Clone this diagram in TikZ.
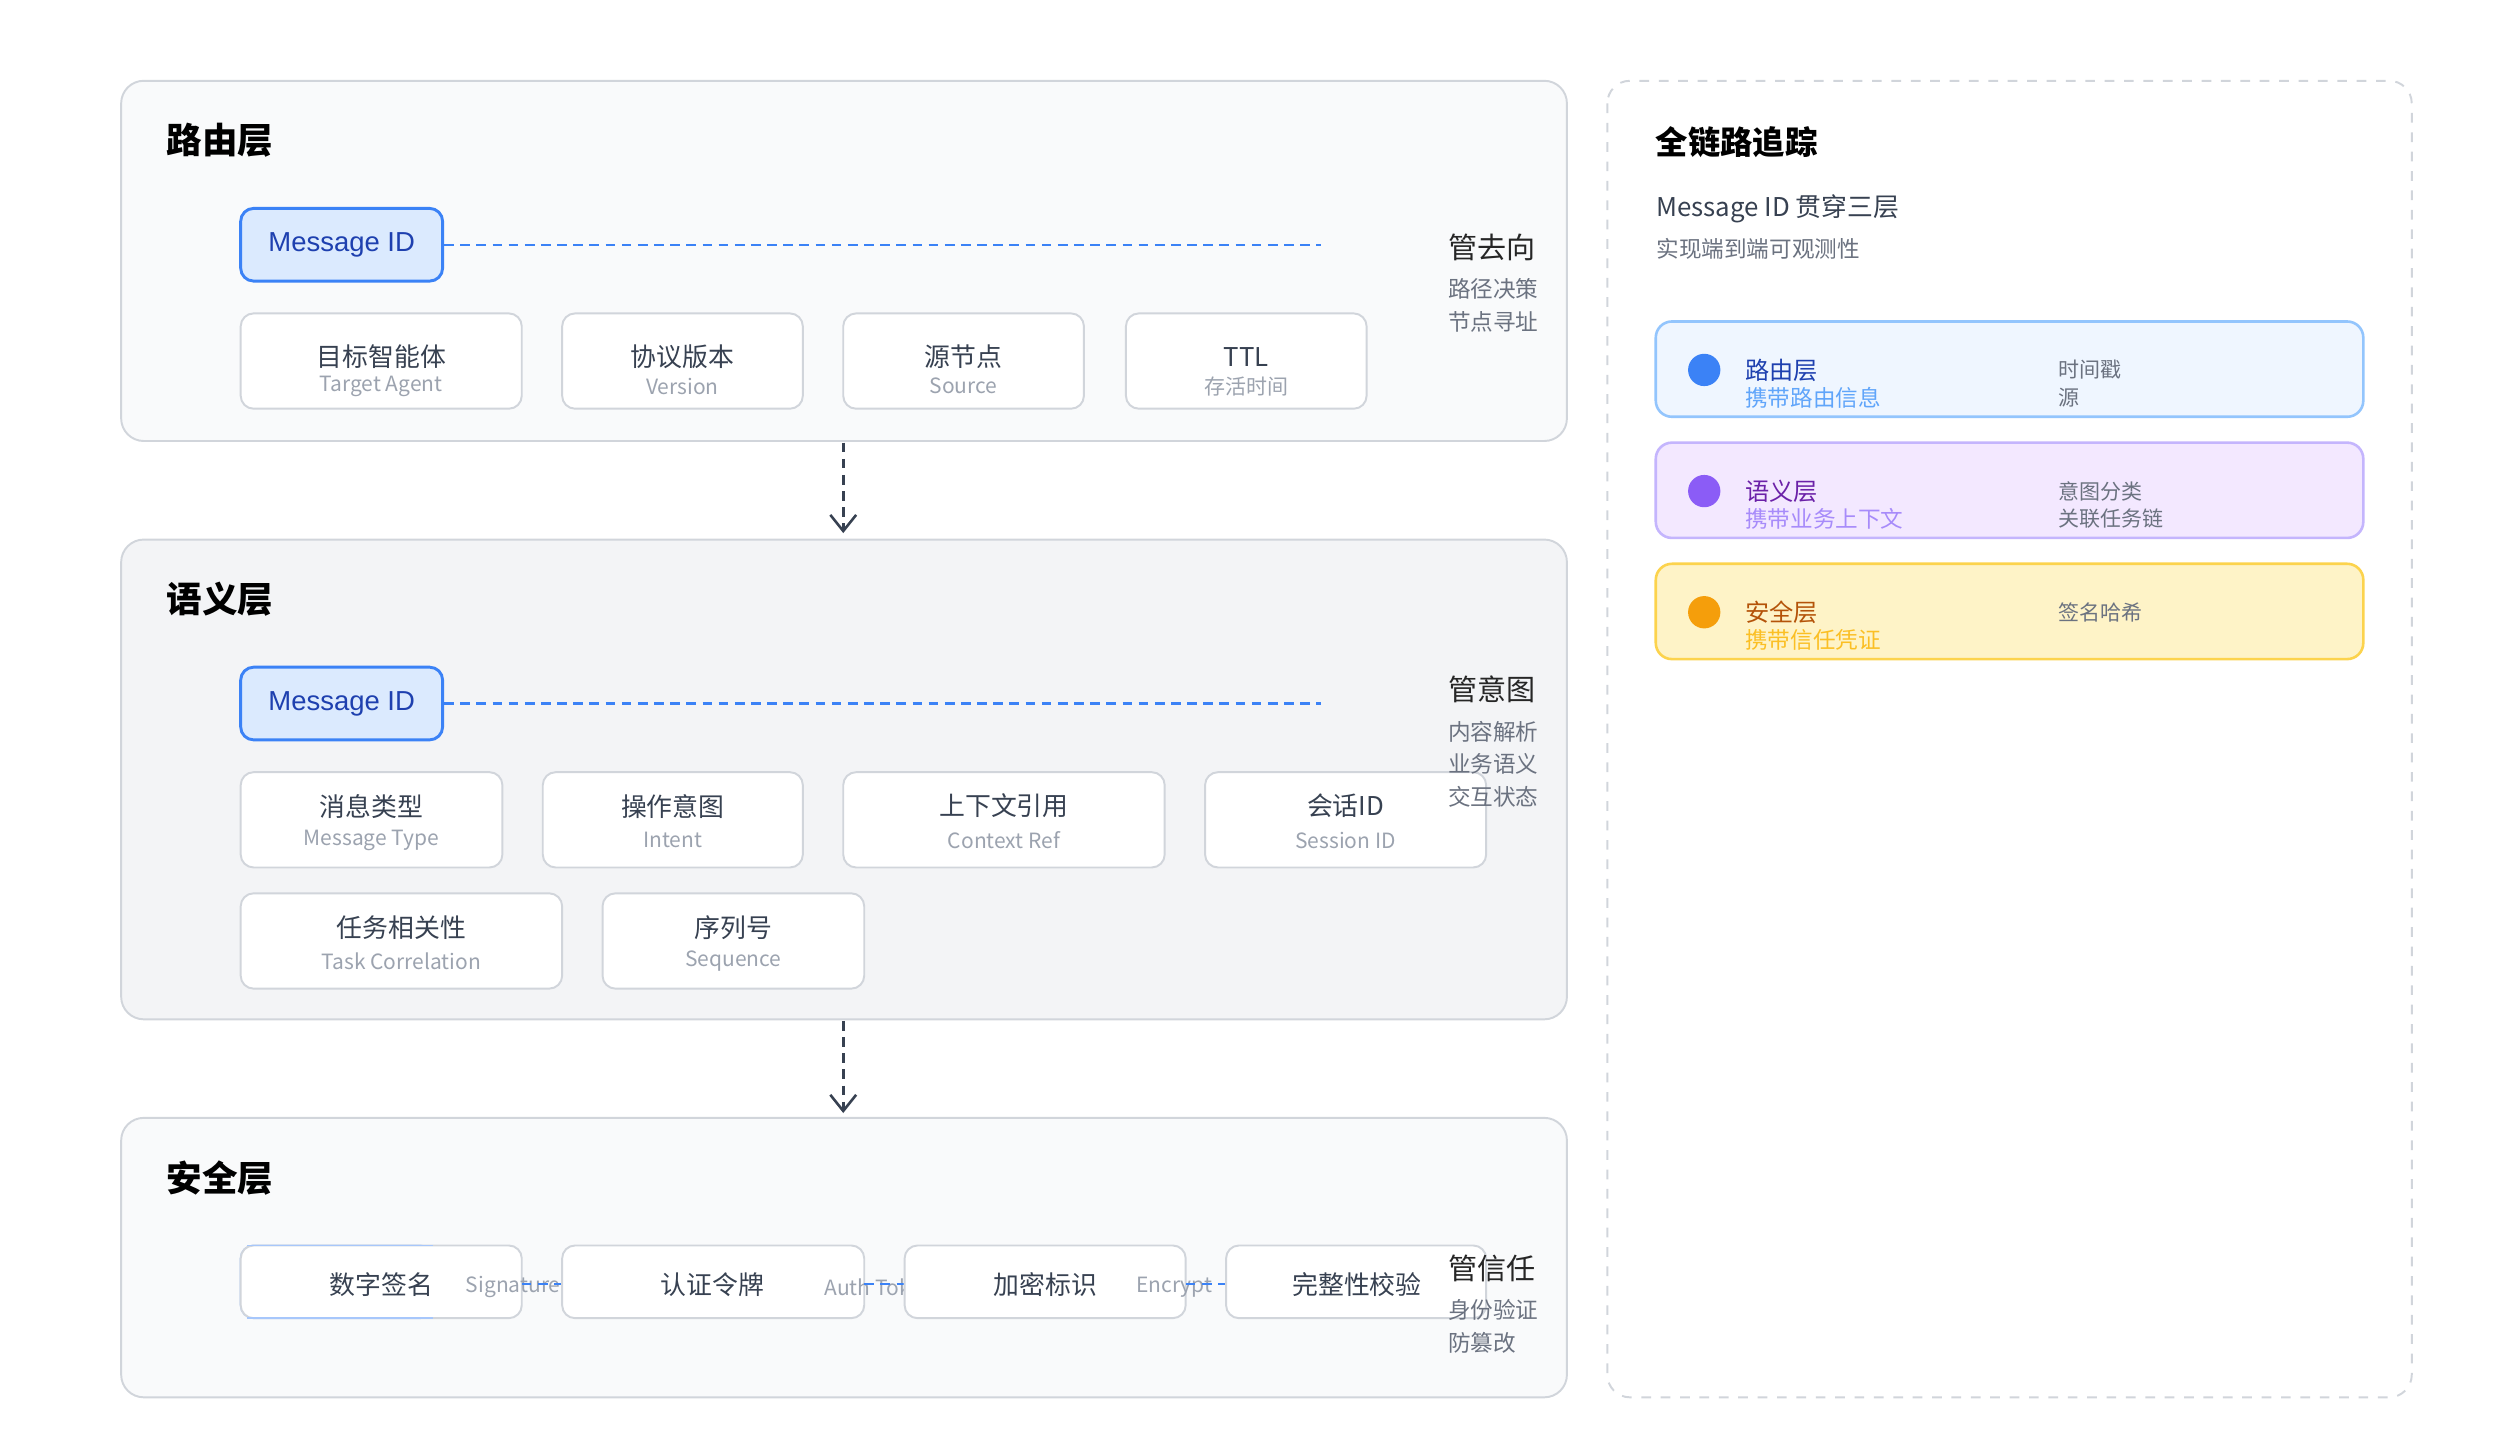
\documentclass[tikz,border=0pt]{standalone}
\usepackage{fontspec}
\setmainfont{Noto Sans CJK SC}
\newfontfamily\latn{Liberation Sans}
\usetikzlibrary{arrows.meta}
\definecolor{panelA}{HTML}{F9FAFB}
\definecolor{panelB}{HTML}{F3F4F6}
\definecolor{pborder}{HTML}{D1D5DB}
\definecolor{bborder}{HTML}{D1D5DB}
\definecolor{txt}{HTML}{374151}
\definecolor{sub}{HTML}{9CA3AF}
\definecolor{side}{HTML}{6B7280}
\definecolor{blue}{HTML}{3B82F6}
\definecolor{lblue}{HTML}{DBEAFE}
\definecolor{dblue}{HTML}{1E40AF}
\tikzset{
 x=0.5pt,y=-0.5pt,
 panel/.style={draw=pborder,line width=0.6pt,rounded corners=7pt},
 box/.style={draw=bborder,fill=white,line width=0.6pt,rounded corners=4pt},
 mid/.style={draw=blue,fill=lblue,line width=0.9pt,rounded corners=4pt},
 title/.style={anchor=west,font=\fontsize{11}{13}\selectfont\bfseries,text=black},
 main/.style={font=\fontsize{8}{10}\selectfont,text=txt,inner sep=0},
 subl/.style={font=\fontsize{6.5}{8}\selectfont,text=sub,inner sep=0},
 side1/.style={anchor=west,font=\fontsize{9}{11}\selectfont,text=black!85,inner sep=0},
 side2/.style={anchor=west,font=\fontsize{7}{9}\selectfont,text=side,inner sep=0},
 link/.style={draw=blue,dashed,dash pattern=on 3pt off 2pt,line width=0.7pt},
 flow/.style={draw=txt,dashed,dash pattern=on 3pt off 2pt,line width=0.8pt,-{Straight Barb[length=5pt,width=8pt]}},
}
\begin{document}
\begin{tikzpicture}
\useasboundingbox (0,0) rectangle (1560,891);
% ---------- routing
\draw[panel,fill=panelA] (75,50) rectangle (970,273);
\node[title] (t1) at (96,87) {路由层};
\node[mid,minimum width=62.5pt,minimum height=22.5pt,font=\fontsize{8.5}{10}\selectfont\latn,text=dblue] (m1) at (211.5,151.5) {Message ID};
\coordinate (e1) at (818,151.5);
\draw[link] (m1.east) -- (e1);
\node[side1] (s1) at (896,153) {管去向};
\node[side2] (s1a) at (896,179) {路径决策};
\node[side2] (s1b) at (896,199) {节点寻址};
\foreach \n/\a/\b/\m/\s in {r1/149/323/目标智能体/Target Agent,r2/348/497/协议版本/Version,r3/522/671/源节点/Source,r4/697/846/TTL/存活时间}{
 \draw[box] (\a,194) rectangle (\b,253);
 \node[main] (\n) at ({(\a+\b)/2},221) {\m};
 \node[subl] (\n s) at ({(\a+\b)/2},239) {\s};
}
% ---------- semantic
\draw[panel,fill=panelB] (75,334) rectangle (970,631);
\node[title] (t2) at (96,371) {语义层};
\node[mid,minimum width=62.5pt,minimum height=22.5pt,font=\fontsize{8.5}{10}\selectfont\latn,text=dblue] (m2) at (211.5,435.5) {Message ID};
\coordinate (e2) at (818,435.5);
\draw[link] (m2.east) -- (e2);
\foreach \n/\a/\b/\y/\m/\s in {q1/149/311/478/消息类型/Message Type,q2/336/497/478/操作意图/Intent,q3/522/721/478/上下文引用/Context Ref,q4/746/920/478/会话ID/Session ID,q5/149/348/553/任务相关性/Task Correlation,q6/373/535/553/序列号/Sequence}{
 \draw[box] (\a,\y) rectangle (\b,\y+59);
 \node[main] (\n) at ({(\a+\b)/2},\y+21) {\m};
 \node[subl] (\n s) at ({(\a+\b)/2},\y+42) {\s};
}
\node[side1] (s2) at (896,427) {管意图};
\node[side2] (s2a) at (896,453) {内容解析};
\node[side2] (s2b) at (896,473) {业务语义};
\node[side2] (s2c) at (896,493) {交互状态};
% ---------- security
\draw[panel,fill=panelA] (75,692) rectangle (970,865);
\node[title] (t3) at (96,729) {安全层};
\draw[box,draw=blue!45] (149,771) rectangle (268,816);
\draw[box] (149,771) rectangle (323,816);
\draw[draw=blue!45,line width=0.6pt] (153,771) -- (268,771) (153,816) -- (268,816);
\node[main] (k1) at (236,795) {数字签名};
\node[subl,anchor=west] (k1s) at (288,797) {Signature};
\draw[link] (323,795) -- (348,795);
\draw[box] (348,771) rectangle (535,816);
\node[main] (k2) at (441,795) {认证令牌};
\node[subl,anchor=west] (k2s) at (510,797) {Auth Token};
\draw[link] (535,795) -- (560,795);
\draw[box] (560,771) rectangle (734,816);
\node[main] (k3) at (647,795) {加密标识};
\node[subl,anchor=west] (k3s) at (703,797) {Encrypt};
\draw[link] (734,795) -- (759,795);
\draw[box] (759,771) rectangle (920,816);
\node[main] (k4) at (840,795) {完整性校验};
\node[side1] (s3) at (896,785) {管信任};
\node[side2] (s3a) at (896,811) {身份验证};
\node[side2] (s3b) at (896,831) {防篡改};
% ---------- flow arrows
\coordinate (a1) at (522,274); \coordinate (a2) at (522,330);
\coordinate (b1) at (522,632); \coordinate (b2) at (522,689);
\draw[flow] (a1) -- (a2);
\draw[flow] (b1) -- (b2);
% ---------- right panel
\draw[draw=pborder,dashed,dash pattern=on 3pt off 3pt,line width=0.6pt,rounded corners=7pt,fill=white] (995,50) rectangle (1493,865);
\node[title,font=\fontsize{10}{12}\selectfont\bfseries] (t4) at (1018,88) {全链路追踪};
\node[anchor=west,inner sep=0,font=\fontsize{8}{10}\selectfont,text=txt] (r1t) at (1025,129) {Message ID 贯穿三层};
\node[anchor=west,inner sep=0,font=\fontsize{7}{9}\selectfont,text=side] (r2t) at (1025,154) {实现端到端可观测性};
\foreach \n/\y/\fc/\dc/\dot/\tc/\sc/\ti/\su/\ra/\rb in {
 c1/199/EFF6FF/93C5FD/3B82F6/1E40AF/60A5FA/路由层/携带路由信息/时间戳/源/目标节点,
 c2/274/F3E8FF/C4B5FD/8B5CF6/6B21A8/A78BFA/语义层/携带业务上下文/意图分类/关联任务链,
 c3/349/FEF3C7/FCD34D/F59E0B/B45309/FBBF24/安全层/携带信任凭证/签名哈希/}{
 \definecolor{fc}{HTML}{\fc}\definecolor{dc}{HTML}{\dc}\definecolor{dt}{HTML}{\dot}\definecolor{tc}{HTML}{\tc}\definecolor{sc}{HTML}{\sc}
 \draw[fill=fc,draw=dc,line width=0.8pt,rounded corners=5pt] (1025,\y) rectangle (1463,\y+59);
 \fill[dt] (1055,\y+30) circle (5pt);
 \node[anchor=west,inner sep=0,font=\fontsize{7.5}{9}\selectfont,text=tc] (\n a) at (1080,\y+30) {\ti};
 \node[anchor=west,inner sep=0,font=\fontsize{7}{9}\selectfont,text=sc] (\n b) at (1080,\y+47) {\su};
 \node[anchor=west,inner sep=0,font=\fontsize{6.5}{8}\selectfont,text=side] (\n c) at (1274,\y+30) {\ra};
 \node[anchor=west,inner sep=0,font=\fontsize{6.5}{8}\selectfont,text=side] (\n d) at (1274,\y+47) {\rb};
}
\end{tikzpicture}
\end{document}
